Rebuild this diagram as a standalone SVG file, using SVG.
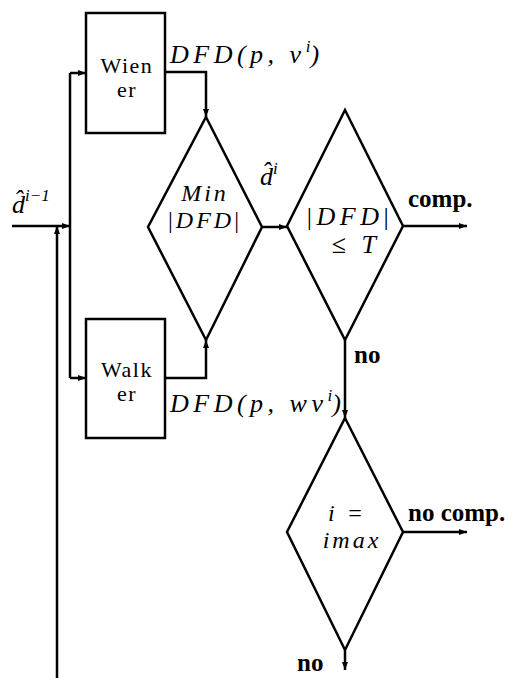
<svg xmlns="http://www.w3.org/2000/svg" width="522" height="678" viewBox="0 0 522 678">
<defs>
<marker id="ah" viewBox="0 0 8 6" refX="8" refY="3" markerWidth="8" markerHeight="6" markerUnits="userSpaceOnUse" orient="auto">
<path d="M0,0 L8,3 L0,6 z" fill="#000"/>
</marker>
</defs>
<style>
.sh{fill:#fff;stroke:#000;stroke-width:2.5;stroke-linejoin:miter}
.cn{fill:none;stroke:#000;stroke-width:2.5;marker-end:url(#ah)}
.ln{fill:none;stroke:#000;stroke-width:2.5}
.rm{font-family:"Liberation Serif",serif;font-size:22px;fill:#000;letter-spacing:1.5px}
.it{font-family:"Liberation Serif",serif;font-style:italic;font-size:26px;fill:#000;letter-spacing:4.5px}
.it2{font-family:"Liberation Serif",serif;font-style:italic;font-size:24px;fill:#000;letter-spacing:3px}
.up{font-style:normal}
.lb{font-family:"Liberation Serif",serif;font-weight:bold;font-size:25px;fill:#000}
.sup{font-family:"Liberation Serif",serif;font-size:17px;letter-spacing:0}
</style>
<rect width="522" height="678" fill="#fff"/>
<g id="connectors">
<path class="cn" d="M12,226 L70,226"/>
<path class="cn" d="M57,678 L57,226"/>
<path class="ln" d="M70,73 L70,378"/>
<path class="cn" d="M70,73 L86,73"/>
<path class="cn" d="M70,378 L86,378"/>
<path class="cn" d="M165,72 L206,72 L206,117"/>
<path class="cn" d="M165,378 L206,378 L206,340"/>
<path class="cn" d="M262,227 L287,227"/>
<path class="cn" d="M403,226 L467,226"/>
<path class="cn" d="M345,340 L345,418"/>
<path class="cn" d="M403,532 L467,532"/>
<path class="cn" d="M345,650 L345,670"/>
</g>
<g id="input">
<text class="it" x="12" y="213" style="letter-spacing:0">d̂<tspan class="sup" dy="-12">i−1</tspan></text>
</g>
<g id="wiener">
<rect class="sh" x="86" y="13" width="79" height="120"/>
<text class="rm" text-anchor="middle"><tspan x="127" y="73">Wien</tspan><tspan x="127" y="97">er</tspan></text>
<text class="it" x="170" y="63">DFD(p, v<tspan class="sup" dy="-11">i</tspan><tspan dy="11">)</tspan></text>
</g>
<g id="walker">
<rect class="sh" x="86" y="319" width="79" height="119"/>
<text class="rm" text-anchor="middle"><tspan x="127" y="377">Walk</tspan><tspan x="127" y="401">er</tspan></text>
<text class="it" x="170" y="412">DFD(p, wv<tspan class="sup" dy="-11">i</tspan><tspan dy="11">)</tspan></text>
</g>
<g id="min">
<polygon class="sh" points="206,117 262,227 206,340 148,227"/>
<text class="it2" text-anchor="middle"><tspan x="205" y="201">Min</tspan><tspan x="205" y="228"><tspan class="up">|</tspan>DFD<tspan class="up">|</tspan></tspan></text>
<text class="it" x="260" y="185" style="letter-spacing:0">d̂<tspan class="sup" dy="-11">i</tspan></text>
</g>
<g id="compare">
<polygon class="sh" points="345,110 403,226 345,340 287,226"/>
<text class="it" text-anchor="middle"><tspan x="350" y="225"><tspan class="up">|</tspan>DFD<tspan class="up">|</tspan></tspan><tspan x="356" y="253">≤ T</tspan></text>
<text class="lb" x="408" y="207">comp.</text>
<text class="lb" x="354" y="363">no</text>
</g>
<g id="imax">
<polygon class="sh" points="345,418 403,532 345,650 287,532"/>
<text class="it2" text-anchor="middle"><tspan x="347" y="521">i =</tspan><tspan x="352" y="548">imax</tspan></text>
<text class="lb" x="408" y="521">no comp.</text>
<text class="lb" x="297" y="671">no</text>
</g>
</svg>
